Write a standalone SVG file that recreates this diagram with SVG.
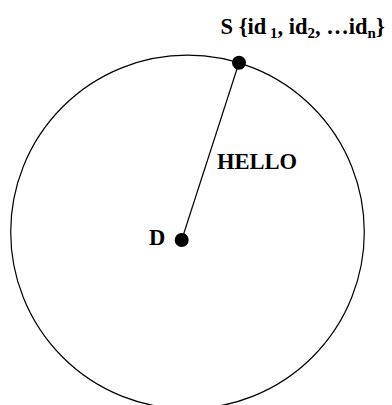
<svg xmlns="http://www.w3.org/2000/svg" width="392" height="405" viewBox="0 0 392 405">
<style>
.lbl{font-family:"Liberation Serif","Times New Roman",serif;font-weight:bold;font-size:22.5px;fill:#000}
.sub{font-size:15px}
.dot{fill:#000}
.edge{stroke:#000;stroke-width:1.2;fill:none}
</style>
<rect width="392" height="405" fill="#fff"/>
<g id="range">
<circle cx="187.5" cy="232" r="176.8" fill="none" stroke="#000" stroke-width="1.2"/>
</g>
<g id="connectors">
<line class="edge" x1="239" y1="62.7" x2="181.7" y2="240"/>
<text class="lbl" x="217" y="169">HELLO</text>
</g>
<g id="node-S">
<circle class="dot" cx="239" cy="62.7" r="7"/>
<text class="lbl" x="220.5" y="34">S {id<tspan class="sub" dy="4"> 1</tspan><tspan dy="-4">, id</tspan><tspan class="sub" dy="4">2</tspan><tspan dy="-4">, …id</tspan><tspan class="sub" dy="4">n</tspan><tspan dy="-4">}</tspan></text>
</g>
<g id="node-D">
<circle class="dot" cx="181.7" cy="240" r="7"/>
<text class="lbl" x="149" y="245">D</text>
</g>
</svg>
